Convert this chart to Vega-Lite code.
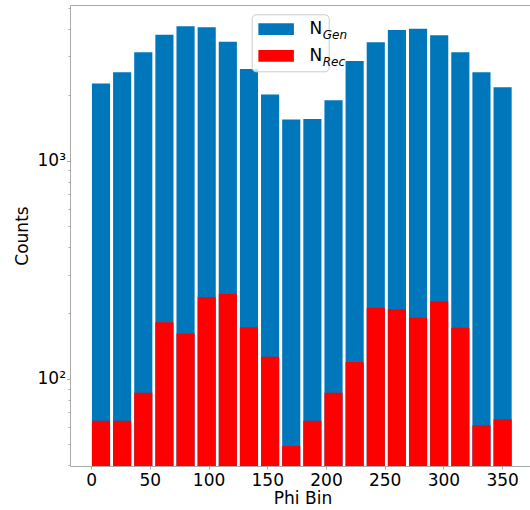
{
  "$schema": "https://vega.github.io/schema/vega-lite/v6.json",
  "width": 460,
  "height": 461,
  "autosize": "none",
  "padding": {"left": 70, "top": 5, "right": 0, "bottom": 44},
  "background": "white",
  "config": {
    "font": "DejaVu Sans",
    "view": {"stroke": null},
    "axis": {"grid": false, "domainColor": "#aaaaaa", "tickColor": "#aaaaaa", "labelColor": "black", "titleColor": "black", "titleFontWeight": "normal", "labelFontSize": 17, "titleFontSize": 17}
  },
  "data": {
    "values": [
      {"start": 0, "end": 18, "gen": 2253, "rec": 64},
      {"start": 18, "end": 36, "gen": 2541, "rec": 64},
      {"start": 36, "end": 54, "gen": 3138, "rec": 86},
      {"start": 54, "end": 72, "gen": 3777, "rec": 181},
      {"start": 72, "end": 90, "gen": 4128, "rec": 161},
      {"start": 90, "end": 108, "gen": 4085, "rec": 236},
      {"start": 108, "end": 126, "gen": 3509, "rec": 244},
      {"start": 126, "end": 144, "gen": 2631, "rec": 172},
      {"start": 144, "end": 162, "gen": 2006, "rec": 126},
      {"start": 162, "end": 180, "gen": 1541, "rec": 49},
      {"start": 180, "end": 198, "gen": 1552, "rec": 64},
      {"start": 198, "end": 216, "gen": 1891, "rec": 86},
      {"start": 216, "end": 234, "gen": 2862, "rec": 119},
      {"start": 234, "end": 252, "gen": 3486, "rec": 211},
      {"start": 252, "end": 270, "gen": 3970, "rec": 208},
      {"start": 270, "end": 288, "gen": 4025, "rec": 190},
      {"start": 288, "end": 306, "gen": 3753, "rec": 226},
      {"start": 306, "end": 324, "gen": 3138, "rec": 171},
      {"start": 324, "end": 342, "gen": 2541, "rec": 61},
      {"start": 342, "end": 360, "gen": 2169, "rec": 65}
    ]
  },
  "resolve": {"axis": {"x": "independent"}},
  "layer": [
    {
      "mark": {"type": "bar", "xOffset": 0.8, "x2Offset": -2.2},
      "encoding": {
        "x": {
          "field": "start", "type": "quantitative",
          "scale": {"domain": [-18, 373.74], "nice": false, "zero": false},
          "axis": {"title": "Phi Bin", "values": [0, 50, 100, 150, 200, 250, 300, 350], "tickSize": 3, "labelPadding": 3, "titlePadding": 2, "titleX": 232.5}
        },
        "x2": {"field": "end"},
        "y": {
          "field": "gen", "type": "quantitative",
          "scale": {"type": "log", "domain": [39.7, 5168], "nice": false},
          "axis": {
            "title": "Counts",
            "values": [40, 50, 60, 70, 80, 90, 100, 200, 300, 400, 500, 600, 700, 800, 900, 1000, 2000, 3000, 4000, 5000],
            "labelExpr": "datum.value == 100 ? '10²' : datum.value == 1000 ? '10³' : ''",
            "tickSize": {"condition": {"test": "datum.value == 100 || datum.value == 1000", "value": 3.5}, "value": 2},
            "labelPadding": 1,
            "titlePadding": 6
          }
        },
        "y2": {"datum": 39.7},
        "color": {
          "datum": "N_Gen",
          "scale": {"domain": ["N_Gen", "N_Rec"], "range": ["#0077bb", "#ff0000"]},
          "legend": {
            "orient": "none", "legendX": 181.7, "legendY": 9.3, "title": null,
            "padding": 6.4, "fillColor": "rgba(255,255,255,0.8)", "strokeColor": "#cccccc", "cornerRadius": 4,
            "symbolType": "M-1,-0.33H1V0.33H-1Z", "symbolSize": 1267, "symbolStrokeWidth": 0,
            "labelExpr": "'N\u00a0\u00a0\u00a0\u00a0\u00a0'", "labelFontSize": 17, "labelColor": "black",
            "labelOffset": 15.3, "rowPadding": 8.6, "clipHeight": 17
          }
        },
        "opacity": {
          "datum": "Gen",
          "scale": {"domain": ["Gen", "Rec"], "range": [1, 1]},
          "legend": {
            "orient": "none", "legendX": 181.7, "legendY": 17.7, "title": null,
            "padding": 6.4, "symbolSize": 0, "symbolStrokeWidth": 0, "symbolOpacity": 0,
            "labelFontSize": 12, "labelFontStyle": "italic", "labelColor": "black",
            "labelOffset": 52.6, "rowPadding": 15.3, "clipHeight": 12
          }
        }
      }
    },
    {
      "mark": {"type": "bar", "xOffset": 0.8, "x2Offset": -2.2},
      "encoding": {
        "x": {
          "field": "start", "type": "quantitative",
          "scale": {"domain": [-18, 373.74], "nice": false, "zero": false},
          "axis": {"orient": "top", "labels": false, "ticks": false, "title": null}
        },
        "x2": {"field": "end"},
        "y": {
          "field": "rec", "type": "quantitative",
          "scale": {"type": "log", "domain": [39.7, 5168], "nice": false},
          "axis": {
            "title": "Counts",
            "values": [40, 50, 60, 70, 80, 90, 100, 200, 300, 400, 500, 600, 700, 800, 900, 1000, 2000, 3000, 4000, 5000],
            "labelExpr": "datum.value == 100 ? '10²' : datum.value == 1000 ? '10³' : ''",
            "tickSize": {"condition": {"test": "datum.value == 100 || datum.value == 1000", "value": 3.5}, "value": 2},
            "labelPadding": 1,
            "titlePadding": 6
          }
        },
        "y2": {"datum": 39.7},
        "color": {"datum": "N_Rec"},
        "opacity": {"datum": "Rec"}
      }
    }
  ]
}
